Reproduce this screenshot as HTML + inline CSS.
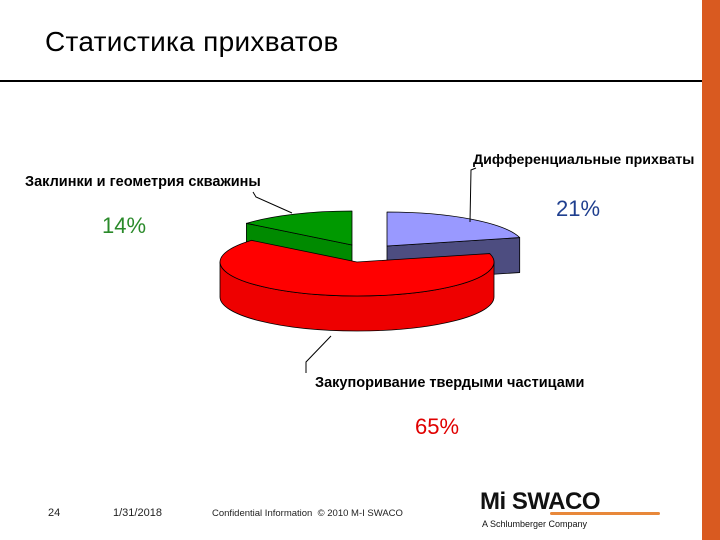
<!DOCTYPE html>
<html><head><meta charset="utf-8"><style>
body{margin:0;width:720px;height:540px;background:#fff;overflow:hidden;position:relative;font-family:"Liberation Sans",sans-serif}
.t{position:absolute;white-space:nowrap}
</style></head><body>
<div class="t" style="left:45px;top:26px;font-size:28px;color:#000;letter-spacing:0.3px">Статистика прихватов</div>
<div style="position:absolute;left:0;top:80px;width:702px;height:2px;background:#000"></div>
<div style="position:absolute;left:702px;top:0;width:18px;height:540px;background:#d95a20"></div>
<svg id="chart" width="720" height="540" style="position:absolute;left:0;top:0">
<g id="pie"></g>
<text x="473" y="164" font-size="14.2" font-weight="bold" font-family="Liberation Sans,sans-serif">Дифференциальные прихваты</text>
<text x="25" y="186" font-size="14.5" font-weight="bold" font-family="Liberation Sans,sans-serif">Заклинки и геометрия скважины</text>
<text x="315" y="387" font-size="14.5" font-weight="bold" font-family="Liberation Sans,sans-serif">Закупоривание твердыми частицами</text>
<text id="p0" x="556" y="216" font-size="22" fill="#1f3f8f" font-family="Liberation Sans,sans-serif"></text>
<text id="p1" x="415" y="434" font-size="22" fill="#e00000" font-family="Liberation Sans,sans-serif"></text>
<text id="p2" x="102" y="233" font-size="22" fill="#2a8a2a" font-family="Liberation Sans,sans-serif"></text>
<polyline points="476,168 471,170 470,222" fill="none" stroke="#000" stroke-width="1"/>
<polyline points="253,192 256,197 292,213" fill="none" stroke="#000" stroke-width="1"/>
<polyline points="331,336 306,362 306,373" fill="none" stroke="#000" stroke-width="1"/>
</svg>
<div class="t" style="left:48px;top:507px;font-size:11px;color:#222">24</div>
<div class="t" style="left:113px;top:507px;font-size:11px;color:#222">1/31/2018</div>
<div class="t" style="left:212px;top:508px;font-size:9.5px;color:#222">Confidential Information &nbsp;© 2010 M-I SWACO</div>
<div style="position:absolute;left:480px;top:488px;width:180px;height:45px">
<div class="t" style="left:0;top:0;font-size:24px;font-weight:bold;letter-spacing:-0.5px;color:#111">Mi SWACO</div>
<div style="position:absolute;left:70px;top:24px;width:110px;height:3px;background:#e8883a;border-radius:2px"></div>
<div class="t" style="left:2px;top:31px;font-size:9px;color:#111">A Schlumberger Company</div>
</div>
<script>
const categories=["Дифференциальные прихваты","Закупоривание твердыми частицами","Заклинки и геометрия скважины"];
const values=[21,65,14];
const tops=["#9999ff","#ff0000","#009900"];
const sides=["#4d4d80","#ee0000","#008a00"];
const centers=[[387,246],[357,262],[352,245]];
const RX=137,RY=34,D=35;
const total=values.reduce((a,b)=>a+b,0);
function px(c,a){return [c[0]+RX*Math.sin(a),c[1]-RY*Math.cos(a)];}
const g=document.getElementById('pie');
const ns="http://www.w3.org/2000/svg";
function add(d,fill,name){const p=document.createElementNS(ns,'path');p.setAttribute('d',d);p.setAttribute('fill',fill);p.setAttribute('stroke','#000');p.setAttribute('stroke-width','0.8');p.setAttribute('stroke-linejoin','round');


g.appendChild(p);}
let ang=[];let acc=0;values.forEach(v=>{ang.push([acc/total*2*Math.PI,(acc+v)/total*2*Math.PI]);acc+=v;});
const order=[2,0,1];
order.forEach(i=>{
 const c=centers[i],[a0,a1]=ang[i];
 const face=(a)=>{const e=px(c,a);return `M${c[0]},${c[1]} L${e[0]},${e[1]} L${e[0]},${e[1]+D} L${c[0]},${c[1]+D}Z`;};
 if(Math.sin(a0)<-1e-6) add(face(a0),sides[i],'slice-face-'+i);
 if(Math.sin(a1)>1e-6) add(face(a1),sides[i],'slice-face-'+i);
 const w0=Math.max(a0,Math.PI/2),w1=Math.min(a1,3*Math.PI/2);
 if(w1>w0){const s=px(c,w0),e=px(c,w1);const large=(w1-w0)>Math.PI?1:0;
  add(`M${s[0]},${s[1]} A${RX},${RY} 0 ${large} 1 ${e[0]},${e[1]} L${e[0]},${e[1]+D} A${RX},${RY} 0 ${large} 0 ${s[0]},${s[1]+D}Z`,sides[i],'slice-wall-'+i);}
 const s=px(c,a0),e=px(c,a1);const large=(a1-a0)>Math.PI?1:0;
 add(`M${c[0]},${c[1]} L${s[0]},${s[1]} A${RX},${RY} 0 ${large} 1 ${e[0]},${e[1]}Z`,tops[i],'slice-top-'+i);
});
values.forEach((v,i)=>{document.getElementById('p'+i).textContent=v+'%';});
</script>
</body></html>
